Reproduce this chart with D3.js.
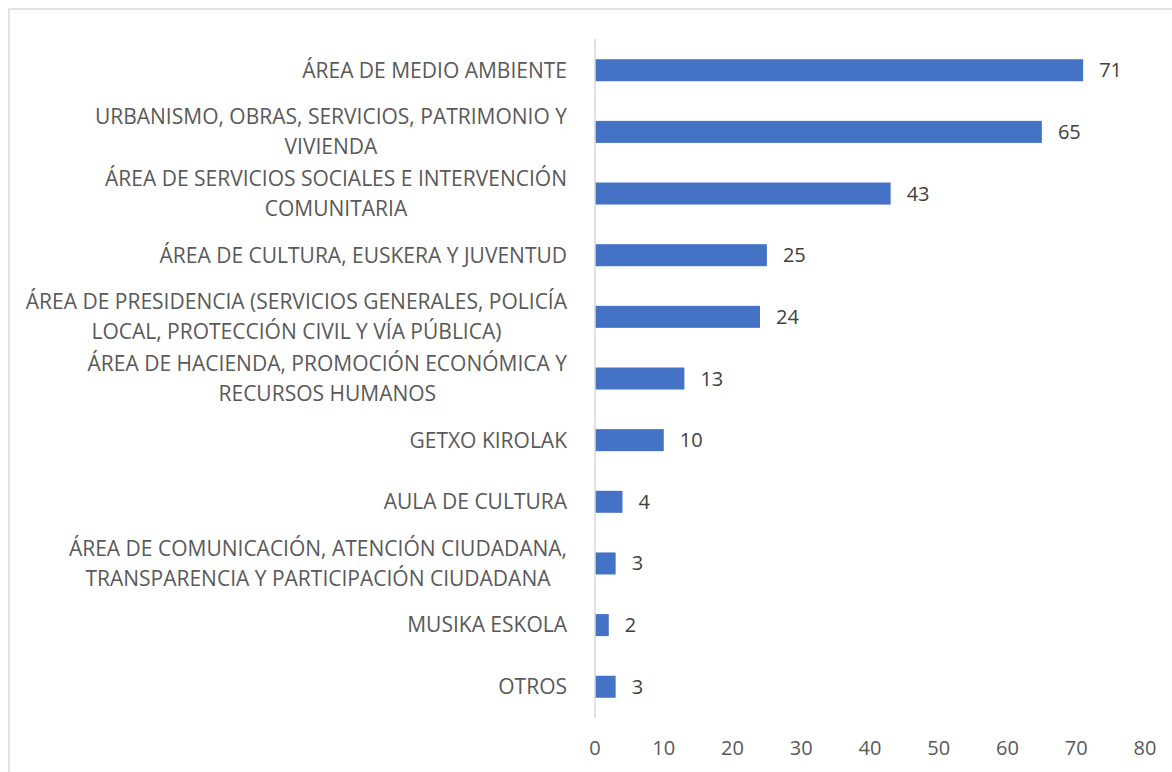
<!DOCTYPE html>
<html><head><meta charset="utf-8">
<script src="https://cdn.jsdelivr.net/npm/d3@7"></script>
<style>body{margin:0;background:#fff}svg{display:block}</style>
</head><body>
<script>
const categories = [
  ["ÁREA DE MEDIO AMBIENTE"],
  ["URBANISMO, OBRAS, SERVICIOS, PATRIMONIO Y", "VIVIENDA"],
  ["ÁREA DE SERVICIOS SOCIALES E INTERVENCIÓN", "COMUNITARIA"],
  ["ÁREA DE CULTURA, EUSKERA Y JUVENTUD"],
  ["ÁREA DE PRESIDENCIA (SERVICIOS GENERALES, POLICÍA", "LOCAL, PROTECCIÓN CIVIL Y VÍA PÚBLICA)"],
  ["ÁREA DE HACIENDA, PROMOCIÓN ECONÓMICA Y", "RECURSOS HUMANOS"],
  ["GETXO KIROLAK"],
  ["AULA DE CULTURA"],
  ["ÁREA DE COMUNICACIÓN, ATENCIÓN CIUDADANA,", "TRANSPARENCIA Y PARTICIPACIÓN CIUDADANA"],
  ["MUSIKA ESKOLA"],
  ["OTROS"]
];
const values = [71, 65, 43, 25, 24, 13, 10, 4, 3, 2, 3];
const xTicks = [0, 10, 20, 30, 40, 50, 60, 70, 80];

const W = 1172, H = 772;
const svg = d3.select("body").append("svg").attr("width", W).attr("height", H);
const font = "'Open Sans', sans-serif";

svg.append("rect").attr("x", 9).attr("y", 9).attr("width", W + 20).attr("height", H + 20)
  .attr("fill", "#fff").attr("stroke", "#d9d9d9").attr("stroke-width", 1.5);

const x = d3.scaleLinear().domain([0, 80]).range([595, 1145]);
const y = d3.scaleBand().domain(d3.range(categories.length)).range([39.5, 717.5]).paddingInner(0.643).paddingOuter(0.32);

svg.append("g").selectAll("rect").data(values).join("rect")
  .attr("x", x(0)).attr("y", (d, i) => y(i))
  .attr("width", d => x(d) - x(0)).attr("height", y.bandwidth())
  .attr("fill", "#4472C4");

svg.append("line").attr("x1", x(0)).attr("x2", x(0)).attr("y1", 39).attr("y2", 718)
  .attr("stroke", "#d9d9d9").attr("stroke-width", 1.5);

// data labels
svg.append("g").selectAll("text").data(values).join("text")
  .attr("x", d => x(d) + 16).attr("y", (d, i) => y(i) + y.bandwidth() / 2)
  .attr("dy", "0.35em").attr("font-family", font).attr("font-size", 20)
  .attr("fill", "#404040").text(d => d);

// category labels
const lh = 29.5;
const cg = svg.append("g");
categories.forEach((lines, i) => {
  const cy = y(i) + y.bandwidth() / 2;
  const g = cg.append("g");
  const texts = lines.map((t, j) => g.append("text")
    .attr("y", cy + (j - (lines.length - 1) / 2) * lh)
    .attr("dy", "0.35em").attr("font-family", font).attr("font-size", 21)
    .attr("fill", "#595959").attr("text-anchor", "middle").text(t));
  const widths = texts.map(t => t.node().getComputedTextLength());
  const maxW = d3.max(widths);
  texts.forEach(t => t.attr("x", 567 - maxW / 2));
});

// x axis tick labels
svg.append("g").selectAll("text").data(xTicks).join("text")
  .attr("x", d => x(d)).attr("y", 748).attr("dy", "0.35em")
  .attr("text-anchor", "middle").attr("font-family", font).attr("font-size", 20)
  .attr("fill", "#595959").text(d => d);
</script>
</body></html>
